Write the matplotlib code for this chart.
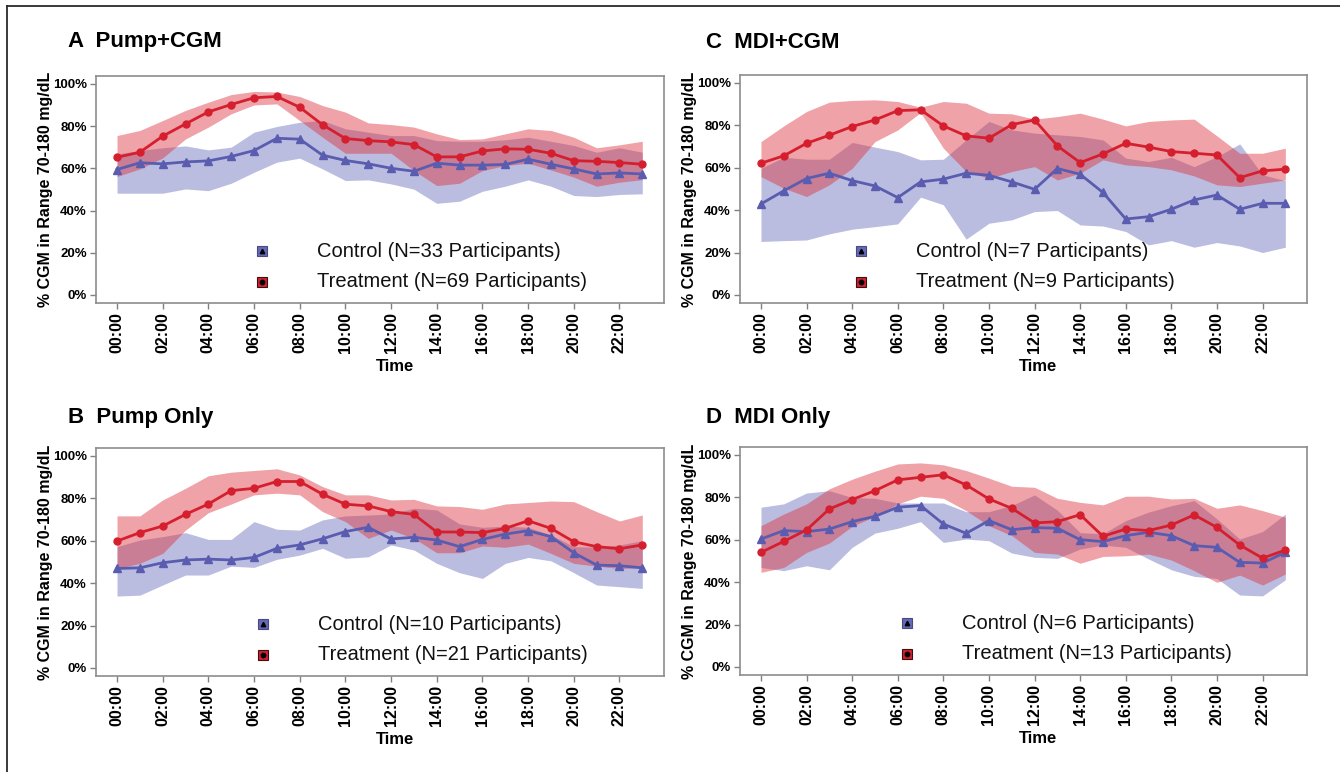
import numpy as np
import matplotlib
matplotlib.use("Agg")
import matplotlib.pyplot as plt
from matplotlib.lines import Line2D

plt.rcParams['font.family'] = ['Liberation Sans', 'DejaVu Sans']

# heures de la journée
heures = np.arange(24)
xtick_heures = np.arange(0, 24, 2)
xtick_labels = ["%02d:00" % h for h in xtick_heures]
ytick_vals = [0, 20, 40, 60, 80, 100]
ytick_labels = ["%d%%" % v for v in ytick_vals]

# A  Pump+CGM
ctrl_a = [59.4, 62.6, 62.1, 63.0, 63.5, 65.6, 68.4, 74.2, 73.8, 66.2, 63.7, 62.1,
          60.0, 58.6, 62.4, 61.5, 61.5, 61.8, 64.3, 61.9, 59.7, 57.3, 57.8, 57.3]
ctrl_a_lo = [48.2, 48.2, 48.2, 50.2, 49.4, 52.9, 58.1, 62.9, 64.8, 59.7, 54.2, 54.5,
             52.6, 50.1, 43.4, 44.4, 49.1, 51.5, 54.5, 51.5, 47.1, 46.6, 47.6, 47.9]
ctrl_a_hi = [66.8, 68.4, 69.7, 70.6, 68.7, 70.0, 77.1, 79.8, 81.8, 82.6, 78.7, 77.1,
             75.5, 75.5, 73.1, 72.8, 72.8, 73.5, 74.7, 72.8, 70.8, 67.6, 69.7, 67.6]
trt_a = [65.2, 67.6, 75.2, 81.0, 86.7, 90.2, 93.4, 94.0, 88.9, 80.6, 74.1, 73.1,
         72.5, 71.2, 65.4, 65.4, 68.2, 69.2, 69.0, 67.1, 63.6, 63.3, 62.7, 61.9]
trt_a_lo = [56.1, 59.7, 64.9, 73.9, 79.5, 85.8, 90.0, 90.5, 82.6, 74.7, 67.1, 67.1,
            67.1, 58.9, 51.8, 52.9, 58.9, 61.3, 62.4, 59.2, 55.8, 51.5, 53.4, 54.6]
trt_a_hi = [75.5, 77.9, 82.6, 87.4, 91.3, 94.9, 96.4, 96.1, 94.0, 89.7, 86.6, 81.5,
            80.7, 79.5, 76.3, 73.6, 73.9, 76.3, 78.7, 77.9, 74.7, 69.7, 71.1, 72.8]

# B  Pump Only
ctrl_b = [46.9, 47.2, 49.6, 50.9, 51.3, 50.9, 52.1, 56.4, 58.0, 60.9, 64.3, 66.3,
          60.8, 61.6, 60.3, 57.2, 60.6, 63.1, 64.7, 61.9, 54.3, 48.5, 48.2, 47.2]
ctrl_b_lo = [33.9, 34.3, 39.1, 43.8, 43.8, 48.0, 47.4, 51.2, 53.2, 56.4, 51.7, 52.4,
             58.0, 55.6, 49.3, 44.9, 42.2, 49.3, 52.1, 50.5, 44.9, 39.1, 38.3, 37.5]
ctrl_b_hi = [57.2, 60.3, 61.9, 63.8, 60.6, 60.6, 69.0, 65.4, 65.0, 69.8, 71.7, 72.1,
             72.6, 75.3, 74.5, 67.9, 66.3, 66.9, 66.3, 62.7, 57.2, 56.9, 58.0, 60.0]
trt_b = [59.8, 63.8, 66.9, 72.4, 77.3, 83.6, 84.7, 87.9, 87.9, 81.9, 77.2, 76.4,
         73.7, 72.4, 64.1, 64.1, 63.8, 65.8, 69.4, 65.8, 59.5, 57.2, 56.2, 58.0]
trt_b_lo = [46.9, 49.3, 54.0, 65.0, 73.2, 77.3, 81.6, 82.4, 81.6, 73.7, 69.0, 61.1,
            65.0, 61.1, 54.3, 54.3, 57.5, 56.9, 58.4, 54.0, 49.3, 48.0, 46.9, 47.2]
trt_b_hi = [71.7, 71.7, 79.2, 84.7, 90.6, 92.3, 93.1, 93.9, 91.0, 85.5, 81.6, 81.6,
            79.2, 79.5, 76.4, 76.1, 74.8, 77.3, 78.0, 78.7, 78.4, 73.7, 69.3, 72.1]

# C  MDI+CGM
ctrl_c = [42.9, 49.1, 54.9, 57.4, 53.9, 51.4, 45.9, 53.3, 54.6, 57.4, 56.4, 53.3,
          49.8, 59.6, 56.9, 48.3, 35.8, 36.9, 40.4, 44.8, 47.1, 40.4, 43.2, 43.2]
ctrl_c_lo = [25.2, 25.6, 25.9, 28.8, 31.0, 32.2, 33.5, 46.1, 42.5, 26.3, 33.8, 35.4,
             39.3, 39.8, 33.0, 32.5, 29.9, 23.6, 25.6, 22.5, 24.7, 23.1, 20.0, 22.5]
ctrl_c_hi = [59.7, 64.9, 64.0, 64.0, 71.9, 69.7, 67.6, 63.7, 64.0, 73.1, 81.8, 77.8,
             76.3, 75.5, 74.7, 73.1, 64.5, 62.9, 64.9, 60.5, 65.2, 71.2, 56.6, 53.9]
trt_c = [62.1, 65.6, 71.5, 75.3, 79.4, 82.5, 86.9, 87.3, 79.7, 75.0, 73.9, 80.3,
         82.5, 70.3, 62.4, 66.5, 71.5, 69.7, 67.6, 66.8, 66.0, 55.3, 58.5, 59.3]
trt_c_lo = [55.8, 50.3, 46.4, 51.9, 59.7, 72.3, 77.8, 86.0, 69.2, 58.2, 55.0, 58.2,
            60.5, 54.2, 57.4, 63.7, 61.3, 60.5, 59.0, 56.1, 51.9, 51.1, 52.7, 54.2]
trt_c_hi = [72.3, 79.7, 86.5, 90.9, 91.7, 92.0, 91.2, 88.5, 91.2, 90.4, 85.7, 85.4,
            82.9, 84.1, 85.7, 82.9, 79.7, 81.8, 82.5, 82.9, 75.0, 66.8, 66.8, 69.2]

# D  MDI Only
ctrl_d = [60.3, 64.3, 63.8, 65.0, 68.5, 71.0, 75.3, 76.1, 67.4, 63.0, 69.0, 64.7,
          65.7, 65.4, 60.0, 59.1, 61.9, 63.5, 61.9, 57.2, 56.4, 49.3, 49.0, 54.0]
ctrl_d_lo = [46.9, 45.4, 47.7, 45.8, 56.4, 63.1, 65.4, 68.5, 58.7, 60.3, 59.5, 53.7,
             51.7, 51.2, 55.6, 57.5, 56.4, 50.9, 45.8, 42.7, 41.7, 33.9, 33.5, 41.1]
ctrl_d_hi = [75.3, 76.9, 82.0, 83.1, 79.9, 79.5, 77.3, 77.3, 77.3, 73.2, 73.2, 76.1,
             81.1, 73.9, 63.3, 62.8, 69.0, 73.0, 76.0, 78.4, 69.8, 60.3, 63.8, 72.1]
trt_d = [54.0, 59.2, 64.6, 74.5, 78.9, 83.1, 88.2, 89.4, 90.6, 85.8, 79.2, 74.8,
         67.9, 68.5, 71.8, 61.6, 65.0, 64.3, 66.9, 71.7, 65.8, 57.5, 51.3, 55.1]
trt_d_lo = [44.6, 46.9, 54.0, 58.4, 66.3, 71.0, 76.9, 80.5, 79.5, 73.7, 66.6, 61.9,
            54.0, 53.2, 48.9, 52.1, 52.4, 53.2, 50.4, 45.4, 39.9, 43.3, 38.6, 43.8]
trt_d_hi = [66.6, 72.1, 76.9, 84.0, 88.5, 92.3, 95.7, 96.2, 95.3, 92.6, 89.0, 85.2,
            84.7, 79.5, 77.6, 76.4, 80.5, 80.5, 79.2, 79.5, 74.8, 76.4, 73.7, 70.6]

titres = ["A  Pump+CGM", "B  Pump Only", "C  MDI+CGM", "D  MDI Only"]
n_ctrl = [33, 10, 7, 6]
n_trt = [69, 21, 9, 13]

# couleurs
bleu_ligne = '#5a5cb0'
bleu_bande = '#6469b9'
rouge_ligne = '#d51f2e'
rouge_bande = '#dc323c'

W, H = 1340., 772.
fig = plt.figure(figsize=(13.4, 7.72), dpi=100)

# position des panneaux en pixels (gauche, haut, droite, bas)
boites = [(96, 76, 664, 303), (96, 448, 664, 676), (740, 75, 1307, 303), (740, 447, 1307, 675)]
# position des titres (x, y) en pixels
pos_titres = [(68, 42), (68, 418), (706, 42), (706, 418)]
# légendes : x du marqueur, x du texte (fraction des axes)
leg_x = [(0.292, 0.389), (0.294, 0.391), (0.213, 0.310), (0.294, 0.391)]

donnees = [
    (ctrl_a, ctrl_a_lo, ctrl_a_hi, trt_a, trt_a_lo, trt_a_hi),
    (ctrl_b, ctrl_b_lo, ctrl_b_hi, trt_b, trt_b_lo, trt_b_hi),
    (ctrl_c, ctrl_c_lo, ctrl_c_hi, trt_c, trt_c_lo, trt_c_hi),
    (ctrl_d, ctrl_d_lo, ctrl_d_hi, trt_d, trt_d_lo, trt_d_hi),
]

for i in range(4):
    g, t, d, b = boites[i]
    ax = fig.add_axes([g / W, 1 - b / H, (d - g) / W, (b - t) / H])
    c, c_lo, c_hi, r, r_lo, r_hi = donnees[i]

    # bandes
    ax.fill_between(heures, c_lo, c_hi, color=bleu_bande, alpha=0.44, lw=0, zorder=1)
    ax.fill_between(heures, r_lo, r_hi, color=rouge_bande, alpha=0.45, lw=0, zorder=2)
    # courbes
    ax.plot(heures, c, color=bleu_ligne, lw=2, marker='^', ms=6, zorder=3)
    ax.plot(heures, r, color=rouge_ligne, lw=2, marker='o', ms=5, zorder=4)

    ax.set_xlim(-0.92, 23.95)
    ax.set_ylim(-3.8, 103.7)
    ax.set_xticks(xtick_heures)
    ax.set_xticklabels(xtick_labels, rotation=90, fontsize=11.5, fontweight='bold')
    ax.set_yticks(ytick_vals)
    ax.set_yticklabels(ytick_labels, fontsize=9.5, fontweight='bold')
    ax.tick_params(axis='both', length=4, width=1, color='#808080', pad=2.5)
    for s in ax.spines.values():
        s.set_color('#8c8c8c')
        s.set_linewidth(1.2)

    ax.set_ylabel("% CGM in Range 70-180 mg/dL", fontsize=11.5, fontweight='bold')
    ax.yaxis.set_label_coords(-0.076, 0.5)
    ax.set_xlabel("Time", fontsize=12, fontweight='bold')
    ax.xaxis.set_label_coords(0.526, -0.245)

    # légende dessinée à la main
    mx, tx = leg_x[i]
    for yy, coul, bord, m, lab in [
            (0.227, bleu_bande, '#4a4a80', '^', "Control (N=%d Participants)" % n_ctrl[i]),
            (0.094, rouge_ligne, '#3a1010', 'o', "Treatment (N=%d Participants)" % n_trt[i])]:
        ax.plot([mx], [yy], marker='s', ms=7.5, mfc=coul, mec=bord, mew=0.8,
                transform=ax.transAxes, clip_on=False, ls='none')
        ax.plot([mx], [yy], marker=m, ms=3.2, mfc='black', mec='black',
                transform=ax.transAxes, clip_on=False, ls='none')
        ax.text(tx, yy, lab, transform=ax.transAxes, fontsize=14.5,
                va='center', ha='left', color='#111111')

    fig.text(pos_titres[i][0] / W, 1 - pos_titres[i][1] / H, titres[i],
             fontsize=16, fontweight='bold', va='center', ha='left')

# cadre extérieur (haut et gauche)
fig.add_artist(Line2D([7 / W, 1], [1 - 5.5 / H, 1 - 5.5 / H], transform=fig.transFigure,
                      color='#2a2a2a', lw=1.3))
fig.add_artist(Line2D([7 / W, 7 / W], [0, 1 - 5.5 / H], transform=fig.transFigure,
                      color='#2a2a2a', lw=1.3))

fig.savefig("out.png", dpi=100)
